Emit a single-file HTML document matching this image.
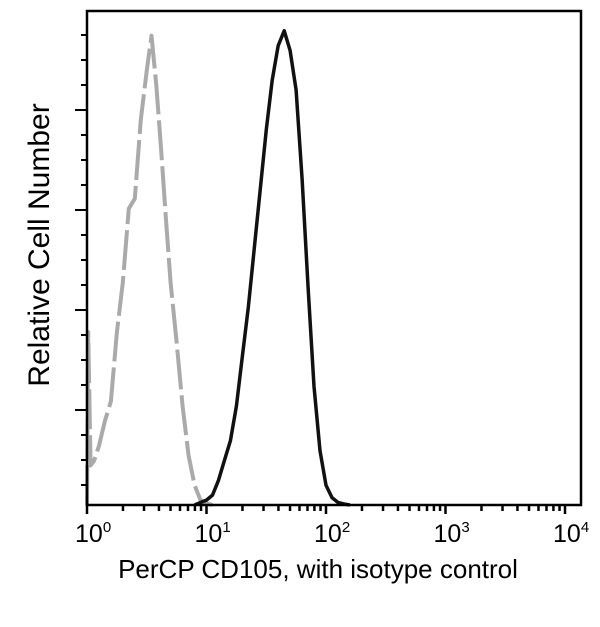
<!DOCTYPE html>
<html><head><meta charset="utf-8"><style>
body{margin:0;background:#fff;width:600px;height:627px;overflow:hidden}
svg{display:block;font-family:"Liberation Sans",sans-serif}
</style></head><body>
<svg id="chart" width="600" height="627" viewBox="0 0 600 627">
<g id="marks"></g>
<g id="axes"></g>
<text x="318" y="578" font-size="26" text-anchor="middle">PerCP CD105, with isotype control</text>
<text transform="translate(49,245) rotate(-90)" font-size="30" text-anchor="middle">Relative Cell Number</text>
</svg>
<script>
const xTickLabels = ["0","1","2","3","4"];
const grayLog = [0,0.01,0.03,0.06,0.1,0.15,0.2,0.25,0.3,0.35,0.4,0.45,0.5,0.54,0.58,0.62,0.66,0.7,0.75,0.8,0.85,0.9,0.95,1.0,1.05];
const grayCount = [0,35,8,9,12,17,21,35,45,60,62,78,88,95,85,72,58,45,33,20,10,4,1,0.3,0];
const blackLog = [0.9,0.95,1.0,1.05,1.1,1.15,1.2,1.25,1.3,1.35,1.4,1.45,1.5,1.55,1.6,1.65,1.7,1.75,1.8,1.85,1.9,1.95,2.0,2.05,2.1,2.15,2.2];
const blackCount = [0,0.5,1,2,5,9,13,20,30,40,52,64,76,86,93,96,92,84,66,44,24,11,4,1.5,0.5,0.2,0];

const L=87,R=581,T=11,B=505,DEC=119.5;
const xs=v=>L+v*DEC;
const ys=c=>B-c/100*(B-T);
const NS="http://www.w3.org/2000/svg";
const marks=document.getElementById('marks'),axes=document.getElementById('axes');
function mk(tag,attrs,parent){const e=document.createElementNS(NS,tag);for(const k in attrs)e.setAttribute(k,attrs[k]);parent.appendChild(e);return e;}
function pts(lx,cy){return lx.map((v,i)=>xs(v).toFixed(1)+","+ys(cy[i]).toFixed(1)).join(" ");}
const g=mk('polyline',{points:pts(grayLog,grayCount),fill:'none',stroke:'#aaa','stroke-width':4,'stroke-dasharray':'40 6','stroke-linejoin':'round'},marks);


const b=mk('polyline',{points:pts(blackLog,blackCount),fill:'none',stroke:'#111','stroke-width':3.5,'stroke-linejoin':'round'},marks);


const frame=mk('rect',{x:L,y:T,width:R-L,height:B-T,fill:'none',stroke:'#000','stroke-width':2.5},axes);


for(let y=B-20;y>T+10;y-=25){
  const major=Math.round((B-y))%100===95;
  const t=mk('line',{x1:major?75:81,x2:L,y1:y,y2:y,stroke:'#000','stroke-width':2},axes);
  
  
}
for(let d=0;d<5;d++){
  for(let m=1;m<10;m++){
    const v=d+Math.log10(m);
    if(xs(v)>R)break;
    const t=mk('line',{x1:xs(v),x2:xs(v),y1:B,y2:m===1?514:511,stroke:'#000','stroke-width':2.5},axes);
    
    
  }
}
xTickLabels.forEach((s,i)=>{
  const tx=mk('text',{x:xs(i)-12,y:542,'font-size':25,'text-anchor':'start'},axes);
  
  
  tx.textContent='10';
  const sp=mk('tspan',{dy:-10,'font-size':15},tx);
  sp.textContent=s;
});
</script>
</body></html>
